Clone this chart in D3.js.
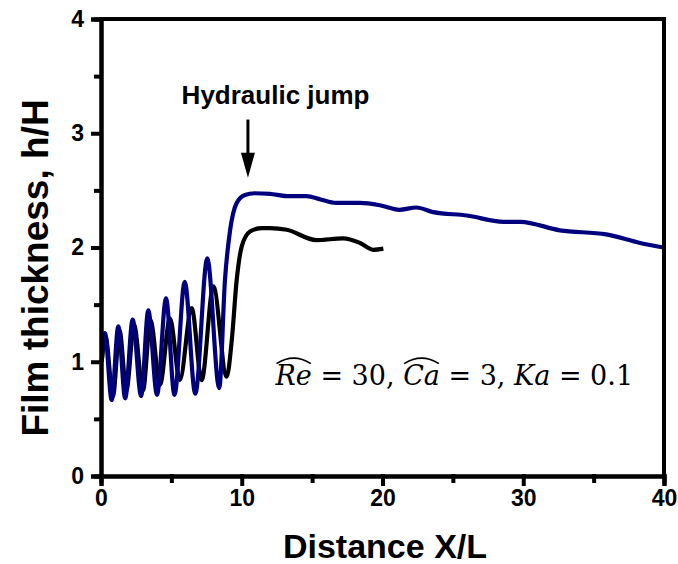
<!DOCTYPE html>
<html>
<head>
<meta charset="utf-8">
<script src="https://cdn.jsdelivr.net/npm/d3@7"></script>
<style>
  body { margin: 0; background: #fff; }
  svg { display: block; font-family: "Liberation Sans", Arial, sans-serif; }
</style>
</head>
<body>
<svg id="chart"></svg>
<script>
// blue curve: Re=30 long domain (x, h)
const blueX = [0.05, 0.28, 0.76, 1.23, 1.72, 2.25, 2.85, 3.36, 3.98, 4.62, 5.22, 5.95, 6.70, 7.55, 8.40,
  8.81, 9.17, 9.64, 10.23, 10.9, 12.0, 13.2, 14.6, 15.6, 16.7, 18.4, 19.8, 21.2, 22.4, 23.6, 26.0,
  28.6, 29.8, 32.6, 35.9, 38.3, 40.0];
const blueY = [1.00, 1.25, 0.665, 1.31, 0.68, 1.37, 0.70, 1.45, 0.71, 1.555, 0.71, 1.70, 0.72, 1.905, 0.77,
  1.72, 2.15, 2.39, 2.46, 2.475, 2.47, 2.45, 2.45, 2.42, 2.39, 2.39, 2.37, 2.33, 2.35, 2.31, 2.28,
  2.225, 2.225, 2.15, 2.115, 2.04, 2.00];

// black curve: shorter domain
const blackX = [0.05, 0.32, 0.85, 1.32, 1.80, 2.35, 2.98, 3.52, 4.19, 4.9, 5.6, 6.44, 7.15, 7.98, 8.93,
  9.3, 9.64, 10.0, 10.59, 11.4, 12.0, 13.2, 15.3, 17.2, 18.4, 19.35, 20.06];
const blackY = [1.00, 1.22, 0.70, 1.27, 0.75, 1.32, 0.75, 1.36, 0.80, 1.38, 0.84, 1.47, 0.84, 1.66, 0.87,
  1.20, 1.715, 2.01, 2.14, 2.17, 2.17, 2.155, 2.065, 2.08, 2.04, 1.98, 1.99];

const xTicks = [0, 10, 20, 30, 40];
const yTicks = [0, 1, 2, 3, 4];

const width = 678, height = 564;
const margin = { top: 19, right: 14, bottom: 88, left: 101 };
const innerW = width - margin.left - margin.right;
const innerH = height - margin.top - margin.bottom;

const svg = d3.select('#chart')
  .attr('width', width)
  .attr('height', height);

const chart = svg.append('g')
  .attr('transform', `translate(${margin.left}, ${margin.top})`);

const x = d3.scaleLinear().domain([0, 40]).range([0, innerW]);
const y = d3.scaleLinear().domain([0, 4]).range([innerH, 0]);

// curves
const line = d3.line()
  .x(d => x(d[0]))
  .y(d => y(d[1]))
  .curve(d3.curveMonotoneX);

const black = d3.zip(blackX, blackY);
const blue = d3.zip(blueX, blueY);

chart.append('path')
  .datum(black)
  .attr('d', line)
  .attr('fill', 'none')
  .attr('stroke', '#000')
  .attr('stroke-width', 4.2)
  .attr('stroke-linejoin', 'round');

chart.append('path')
  .datum(blue)
  .attr('d', line)
  .attr('fill', 'none')
  .attr('stroke', '#00007f')
  .attr('stroke-width', 4.2)
  .attr('stroke-linejoin', 'round');

// axes
const xAxis = d3.axisBottom(x).tickValues(xTicks).tickSize(8).tickPadding(6).tickFormat(d3.format('d'));
const yAxis = d3.axisLeft(y).tickValues(yTicks).tickSize(8).tickPadding(9).tickFormat(d3.format('d'));

const axisGroup = chart.append('g').attr('class', 'axes');

axisGroup.append('g')
  .attr('transform', `translate(0, ${innerH})`)
  .call(xAxis);
axisGroup.append('g').call(yAxis);

// minor ticks
axisGroup.append('g')
  .attr('transform', `translate(0, ${innerH})`)
  .call(d3.axisBottom(x).tickValues([5, 15, 25, 35]).tickSize(5).tickFormat(''));
axisGroup.append('g')
  .call(d3.axisLeft(y).tickValues([0.5, 1.5, 2.5, 3.5]).tickSize(5).tickFormat(''));

// frame on top and right
axisGroup.append('line')
  .attr('x1', 0).attr('x2', innerW).attr('y1', 0).attr('y2', 0);
axisGroup.append('line')
  .attr('x1', innerW).attr('x2', innerW).attr('y1', 0).attr('y2', innerH);

axisGroup.selectAll('path.domain, line')
  .style('stroke', '#000')
  .style('stroke-width', '4px')
  .style('stroke-linecap', 'square');

axisGroup.selectAll('.tick text')
  .style('font-family', '"Liberation Sans", Arial, sans-serif')
  .style('font-size', '23px')
  .style('font-weight', 'bold')
  .style('fill', '#000');

// axis titles
svg.append('text')
  .attr('x', 385)
  .attr('y', 558)
  .attr('text-anchor', 'middle')
  .attr('font-size', 34)
  .attr('font-weight', 'bold')
  .text('Distance X/L');

svg.append('text')
  .attr('transform', `translate(48, 268) rotate(-90)`)
  .attr('text-anchor', 'middle')
  .attr('font-size', 37)
  .attr('font-weight', 'bold')
  .text('Film thickness, h/H');

// hydraulic jump annotation
chart.append('text')
  .attr('x', x(12.4))
  .attr('y', y(3.26))
  .attr('text-anchor', 'middle')
  .attr('font-size', 26)
  .attr('font-weight', 'bold')
  .text('Hydraulic jump');

chart.append('line')
  .attr('x1', x(10.44)).attr('x2', x(10.44))
  .attr('y1', y(3.12)).attr('y2', y(2.78))
  .attr('stroke', '#000')
  .attr('stroke-width', 3);

const tipX = x(10.44), tipY = y(2.61);
chart.append('path')
  .attr('d', `M${tipX},${tipY} L${tipX - 7},${tipY - 25} L${tipX + 7},${tipY - 25} Z`)
  .attr('fill', '#000');

// parameter label
const eq = chart.append('text')
  .attr('x', x(12.4))
  .attr('y', y(0.8))
  .attr('font-family', '"DejaVu Serif", "Liberation Serif", serif')
  .attr('font-size', 27)
  .attr('fill', '#000');

const parts = [
  ['Re', true], [' = 30, ', false], ['Ca', true], [' = 3, ', false], ['Ka', true], [' = 0.1', false]
];
parts.forEach(p => {
  eq.append('tspan')
    .attr('font-style', p[1] ? 'italic' : 'normal')
    .text(p[0]);
});

// hats over Re and Ca
const node = eq.node();
const hatStarts = [0, 'Re = 30, '.length];
hatStarts.forEach(i => {
  const a = node.getExtentOfChar(i);
  const b = node.getExtentOfChar(i + 1);
  const x0 = a.x + 1, x1 = b.x + b.width - 1;
  const top = a.y - 3;
  chart.append('path')
    .attr('d', `M${x0},${top + 7} Q${(x0 + x1) / 2},${top - 4} ${x1},${top + 7}`)
    .attr('fill', 'none')
    .attr('stroke', '#000')
    .attr('stroke-width', 1.7);
});
</script>
</body>
</html>
